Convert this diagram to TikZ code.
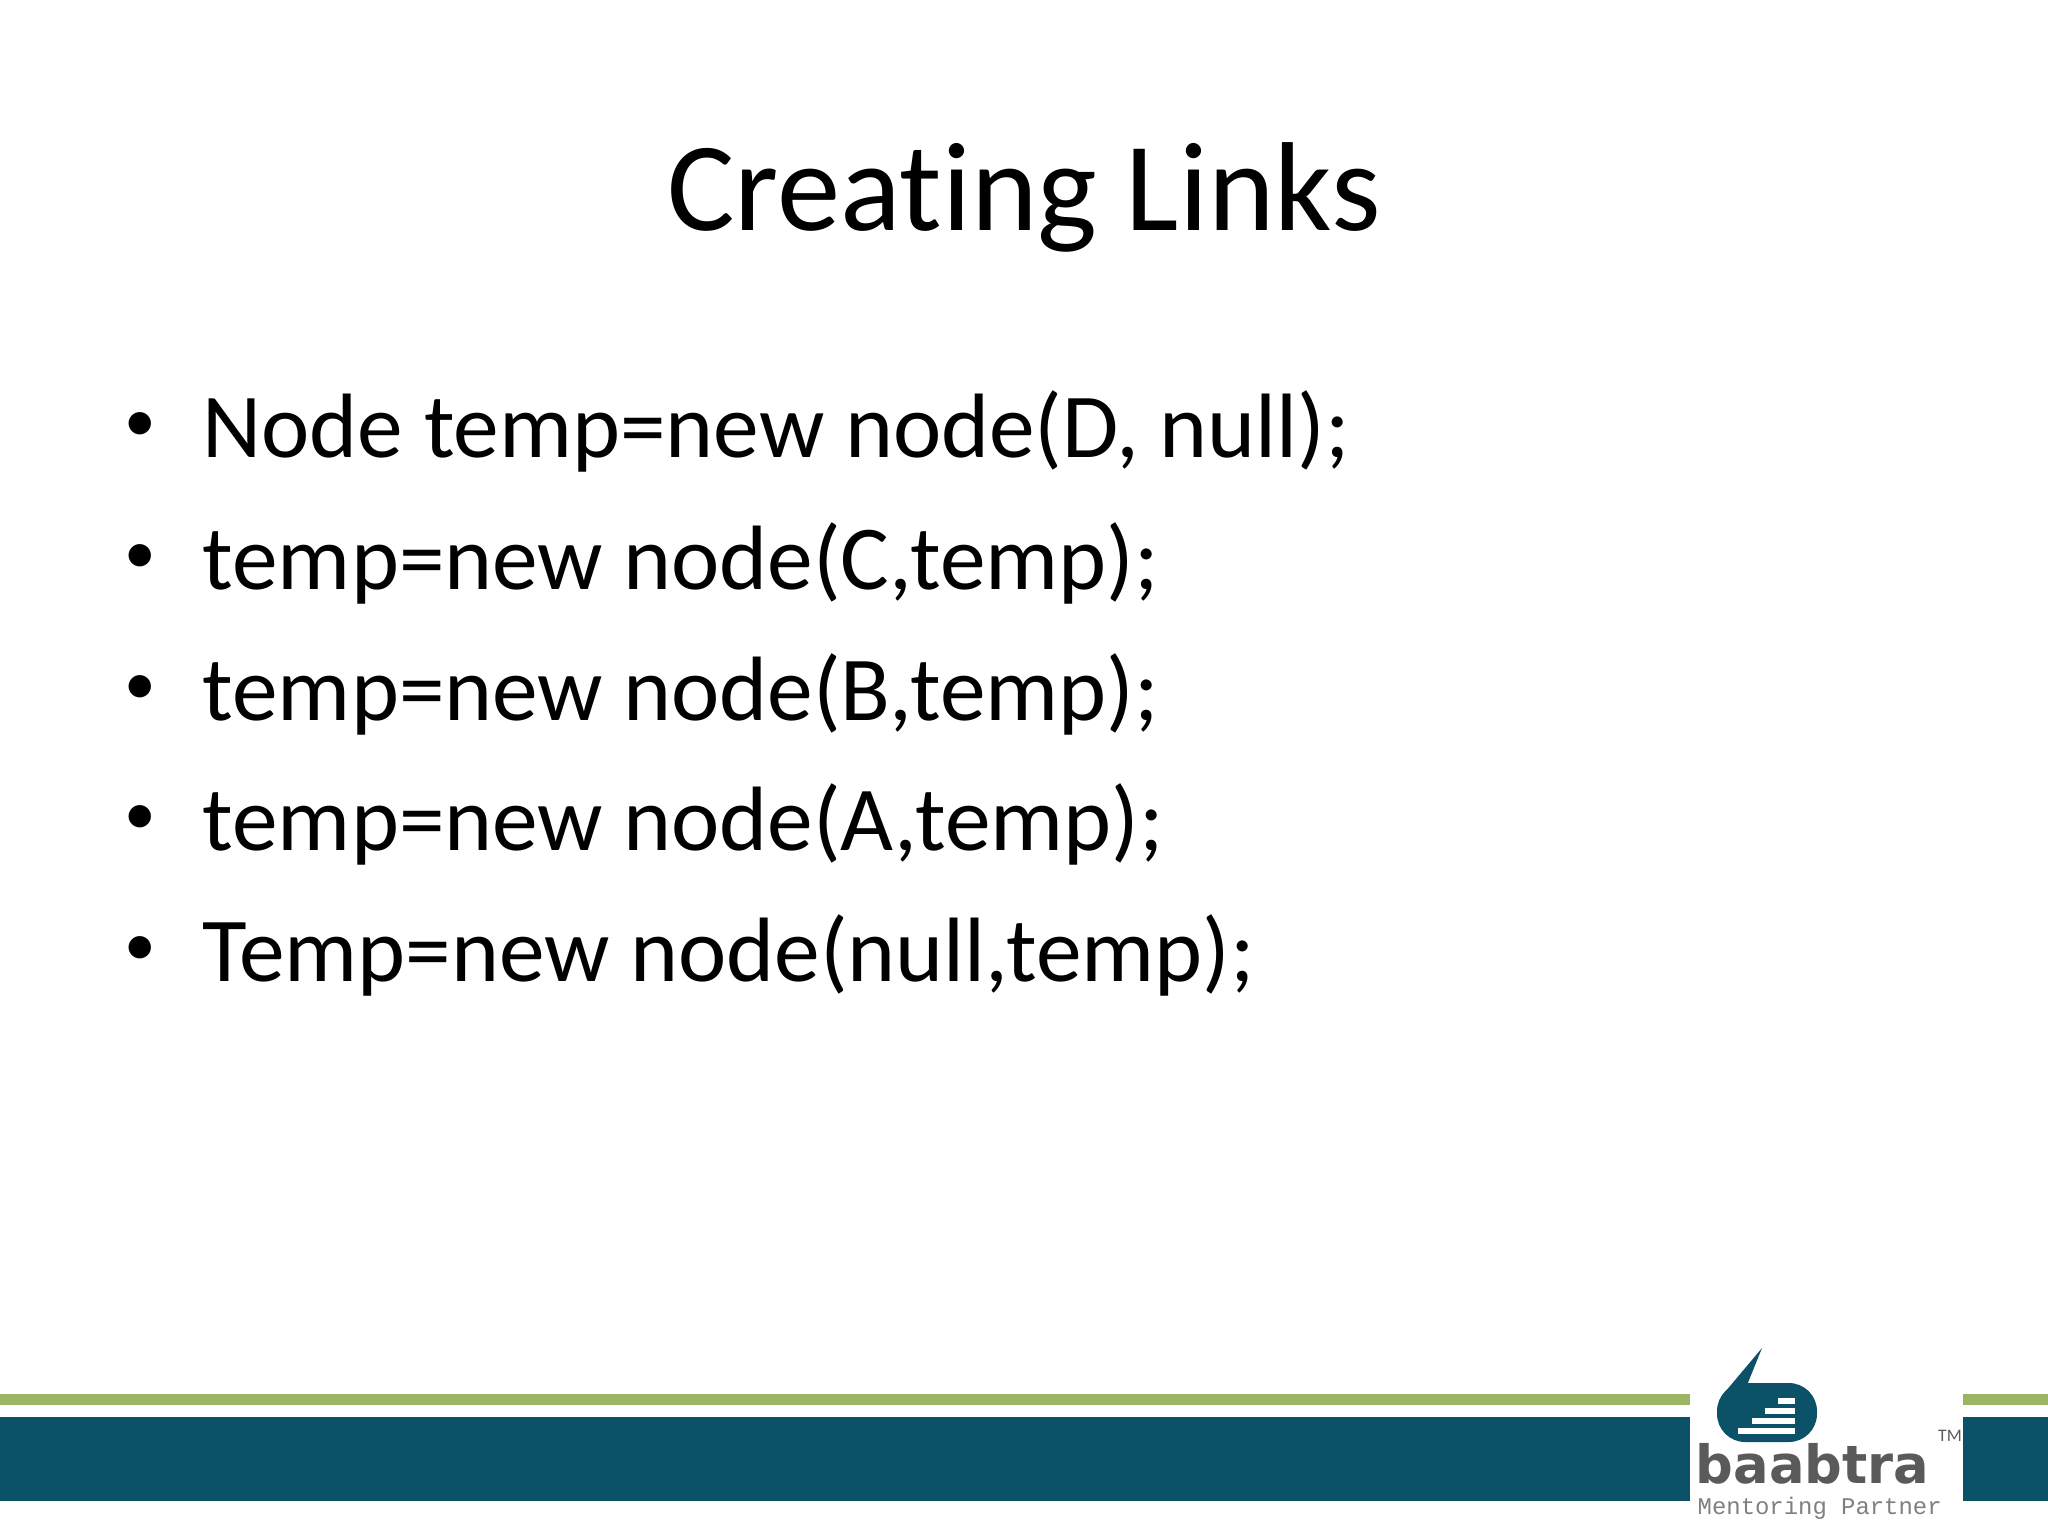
\documentclass[tikz,border=0pt]{standalone}
\usepackage{fontspec}
\setmainfont[Ligatures=NoCommon]{Carlito}
\newfontfamily\logofont{DejaVu Sans}
\newfontfamily\monofont{Liberation Mono}
\definecolor{teal}{HTML}{0B5268}
\definecolor{lgreen}{HTML}{9BB564}
\definecolor{lgray}{HTML}{5A5A5A}
\begin{document}
\begin{tikzpicture}[x=0.01cm,y=-0.01cm,
  line/.style={anchor=base west,inner sep=0pt,font=\fontsize{26}{30}\selectfont},
  bul/.style={anchor=center,inner sep=0pt,font=\fontsize{18}{20}\selectfont}]
\useasboundingbox (0,0) rectangle (2048,1536);
\fill[white] (0,0) rectangle (2048,1536);
\node[inner sep=0pt,font=\fontsize{36}{40}\selectfont] (title) at (1024,197) {Creating Links};
\foreach \y/\t [count=\i] in {457/{Node temp=new node(D, null);},589/{temp=new node(C,temp);},720/{temp=new node(B,temp);},850/{temp=new node(A,temp);},981/{Temp=new node(null,temp);}}{
  \node[bul] (b\i) at (140,\y-30) {\textbullet};
  \node[line] (l\i) at (202,\y) {\t};
}
% bands
\fill[lgreen] (0,1394) rectangle (1690,1405);
\fill[lgreen] (1963,1394) rectangle (2048,1405);
\fill[teal] (0,1417) rectangle (1690,1501);
\fill[teal] (1963,1417) rectangle (2048,1501);
% logo
\fill[teal,rounded corners=8] (1717,1383) rectangle (1817,1442);
\fill[teal] (1725,1392) -- (1762,1348) -- (1745,1390) -- cycle;
\fill[white] (1778,1398) rectangle (1795,1404);
\fill[white] (1765,1408) rectangle (1795,1414);
\fill[white] (1752,1418) rectangle (1795,1424);
\fill[white] (1738,1428) rectangle (1795,1434);
\node[inner sep=0pt,text=lgray,font=\logofont\bfseries\fontsize{15}{16}\selectfont,anchor=base west] (logo) at (1695,1483) {baabtra};
\node[inner sep=0pt,text=lgray,font=\fontsize{5}{6}\selectfont] (tm) at (1950,1436) {TM};
\node[inner sep=0pt,text=gray,font=\monofont\fontsize{6.8}{8}\selectfont,anchor=base west] (mp) at (1697,1514) {Mentoring Partner};
\end{tikzpicture}
\end{document}
